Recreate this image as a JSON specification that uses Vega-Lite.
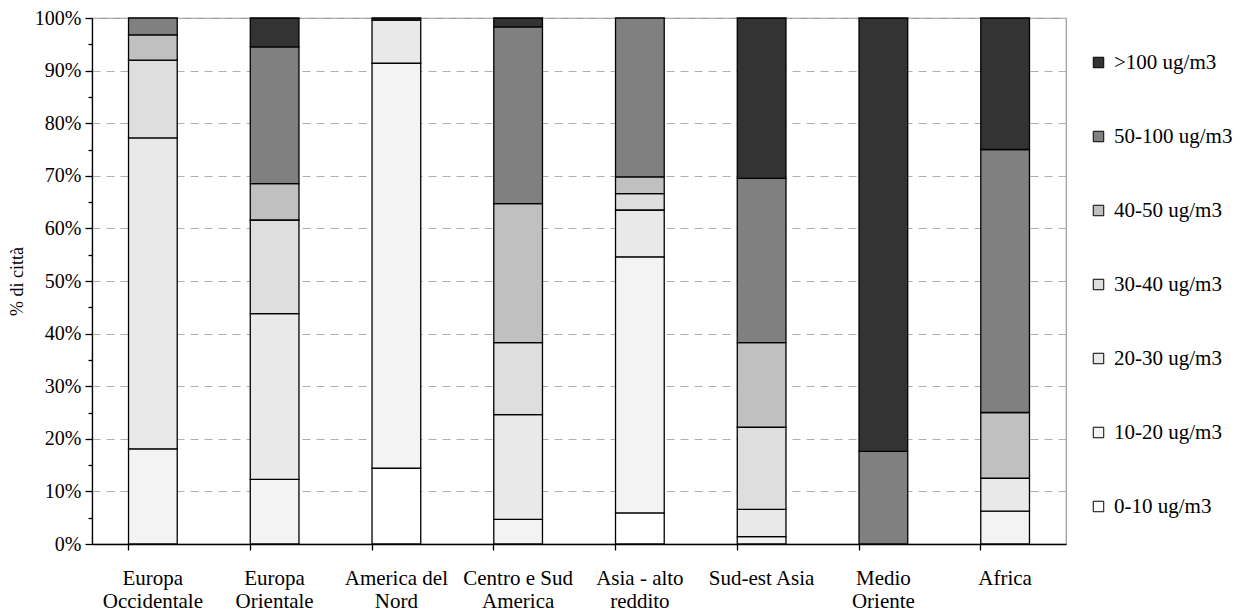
{
  "$schema": "https://vega.github.io/schema/vega-lite/v6.json",
  "width": 974,
  "height": 526,
  "padding": {"left": 8, "top": 8, "right": 2, "bottom": 2},
  "background": "white",
  "config": {
    "font": "Liberation Serif",
    "view": {"stroke": "#999999", "strokeWidth": 1.2}
  },
  "data": {
    "values": [
      {"regione": "Europa Occidentale", "classe": "10-20 ug/m3", "pct": 18.1},
      {"regione": "Europa Occidentale", "classe": "20-30 ug/m3", "pct": 59.1},
      {"regione": "Europa Occidentale", "classe": "30-40 ug/m3", "pct": 14.8},
      {"regione": "Europa Occidentale", "classe": "40-50 ug/m3", "pct": 4.8},
      {"regione": "Europa Occidentale", "classe": "50-100 ug/m3", "pct": 3.2},
      {"regione": "Europa Orientale", "classe": "10-20 ug/m3", "pct": 12.3},
      {"regione": "Europa Orientale", "classe": "20-30 ug/m3", "pct": 31.5},
      {"regione": "Europa Orientale", "classe": "30-40 ug/m3", "pct": 17.8},
      {"regione": "Europa Orientale", "classe": "40-50 ug/m3", "pct": 6.9},
      {"regione": "Europa Orientale", "classe": "50-100 ug/m3", "pct": 26.0},
      {"regione": "Europa Orientale", "classe": ">100 ug/m3", "pct": 5.5},
      {"regione": "America del Nord", "classe": "0-10 ug/m3", "pct": 14.4},
      {"regione": "America del Nord", "classe": "10-20 ug/m3", "pct": 77.0},
      {"regione": "America del Nord", "classe": "20-30 ug/m3", "pct": 8.2},
      {"regione": "America del Nord", "classe": ">100 ug/m3", "pct": 0.4},
      {"regione": "Centro e Sud America", "classe": "10-20 ug/m3", "pct": 4.7},
      {"regione": "Centro e Sud America", "classe": "20-30 ug/m3", "pct": 19.9},
      {"regione": "Centro e Sud America", "classe": "30-40 ug/m3", "pct": 13.7},
      {"regione": "Centro e Sud America", "classe": "40-50 ug/m3", "pct": 26.4},
      {"regione": "Centro e Sud America", "classe": "50-100 ug/m3", "pct": 33.6},
      {"regione": "Centro e Sud America", "classe": ">100 ug/m3", "pct": 1.7},
      {"regione": "Asia - alto reddito", "classe": "0-10 ug/m3", "pct": 5.9},
      {"regione": "Asia - alto reddito", "classe": "10-20 ug/m3", "pct": 48.7},
      {"regione": "Asia - alto reddito", "classe": "20-30 ug/m3", "pct": 8.9},
      {"regione": "Asia - alto reddito", "classe": "30-40 ug/m3", "pct": 3.1},
      {"regione": "Asia - alto reddito", "classe": "40-50 ug/m3", "pct": 3.2},
      {"regione": "Asia - alto reddito", "classe": "50-100 ug/m3", "pct": 30.2},
      {"regione": "Sud-est Asia", "classe": "10-20 ug/m3", "pct": 1.4},
      {"regione": "Sud-est Asia", "classe": "20-30 ug/m3", "pct": 5.2},
      {"regione": "Sud-est Asia", "classe": "30-40 ug/m3", "pct": 15.6},
      {"regione": "Sud-est Asia", "classe": "40-50 ug/m3", "pct": 16.1},
      {"regione": "Sud-est Asia", "classe": "50-100 ug/m3", "pct": 31.2},
      {"regione": "Sud-est Asia", "classe": ">100 ug/m3", "pct": 30.5},
      {"regione": "Medio Oriente", "classe": "50-100 ug/m3", "pct": 17.6},
      {"regione": "Medio Oriente", "classe": ">100 ug/m3", "pct": 82.4},
      {"regione": "Africa", "classe": "10-20 ug/m3", "pct": 6.25},
      {"regione": "Africa", "classe": "20-30 ug/m3", "pct": 6.25},
      {"regione": "Africa", "classe": "40-50 ug/m3", "pct": 12.5},
      {"regione": "Africa", "classe": "50-100 ug/m3", "pct": 50.0},
      {"regione": "Africa", "classe": ">100 ug/m3", "pct": 25.0}
    ]
  },
  "mark": {"type": "bar", "stroke": "black", "strokeWidth": 1.3},
  "encoding": {
    "x": {
      "field": "regione",
      "type": "nominal",
      "sort": ["Europa Occidentale", "Europa Orientale", "America del Nord", "Centro e Sud America", "Asia - alto reddito", "Sud-est Asia", "Medio Oriente", "Africa"],
      "scale": {"paddingInner": 0.6, "paddingOuter": 0.3},
      "axis": {
        "title": null,
        "labelAngle": 0,
        "labelFontSize": 21,
        "labelColor": "black",
        "labelPadding": 17,
        "labelLineHeight": 23,
        "labelExpr": "datum.label == 'Europa Occidentale' ? ['Europa','Occidentale'] : datum.label == 'Europa Orientale' ? ['Europa','Orientale'] : datum.label == 'America del Nord' ? ['America del','Nord'] : datum.label == 'Centro e Sud America' ? ['Centro e Sud','America'] : datum.label == 'Asia - alto reddito' ? ['Asia - alto','reddito'] : datum.label == 'Medio Oriente' ? ['Medio','Oriente'] : datum.label",
        "bandPosition": 0,
        "tickColor": "black",
        "tickSize": 6,
        "tickWidth": 1.3,
        "domainColor": "black",
        "domainWidth": 1.3,
        "grid": false
      }
    },
    "y": {
      "field": "pct",
      "type": "quantitative",
      "stack": "normalize",
      "scale": {"domain": [0, 1], "nice": false},
      "axis": {
        "title": "% di città",
        "titleFontSize": 18,
        "titleFontWeight": "normal",
        "titleColor": "black",
        "titlePadding": 8,
        "values": [0, 0.05, 0.1, 0.15, 0.2, 0.25, 0.3, 0.35, 0.4, 0.45, 0.5, 0.55, 0.6, 0.65, 0.7, 0.75, 0.8, 0.85, 0.9, 0.95, 1],
        "labelExpr": "round(datum.value*100) % 10 == 0 ? round(datum.value*100) + '%' : ''",
        "labelFontSize": 20,
        "labelColor": "black",
        "labelPadding": 4,
        "tickColor": "black",
        "tickWidth": 1.3,
        "tickSize": {"condition": {"test": "round(datum.value*100) % 10 != 0", "value": 4}, "value": 7},
        "domainColor": "black",
        "domainWidth": 1.3,
        "grid": true,
        "gridColor": "#b0b0b0",
        "gridDash": [8, 6],
        "gridWidth": 1.2,
        "gridOpacity": {"condition": {"test": "round(datum.value*100) % 10 != 0 || datum.value == 0", "value": 0}, "value": 1}
      }
    },
    "order": {"field": "classe", "sort": "ascending"},
    "color": {
      "field": "classe",
      "type": "nominal",
      "sort": "descending",
      "scale": {
        "domain": [">100 ug/m3", "50-100 ug/m3", "40-50 ug/m3", "30-40 ug/m3", "20-30 ug/m3", "10-20 ug/m3", "0-10 ug/m3"],
        "range": ["#333333", "#808080", "#c0c0c0", "#dedede", "#e9e9e9", "#f3f3f3", "#ffffff"]
      },
      "legend": {
        "title": null,
        "orient": "none",
        "legendX": 996,
        "legendY": 34,
        "padding": 0,
        "symbolType": "square",
        "symbolSize": 110,
        "symbolStrokeColor": "black",
        "symbolStrokeWidth": 1,
        "labelFontSize": 21,
        "labelColor": "black",
        "labelOffset": 5,
        "rowPadding": 52,
        "labelLimit": 200
      }
    }
  }
}
